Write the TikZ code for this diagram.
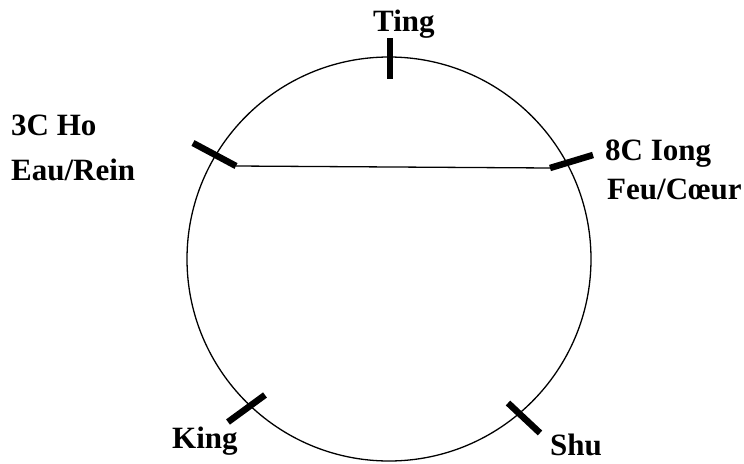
\documentclass[tikz,border=0pt]{standalone}
\usepackage{fontspec}
\setmainfont{Liberation Serif}
\begin{document}
\begin{tikzpicture}[x=1pt,y=-1pt,
  lbl/.style={anchor=base west,inner sep=0pt,font=\fontsize{31}{40}\selectfont\bfseries},
  tick/.style={line width=6.5pt},
  ringline/.style={line width=1.3pt}]
\useasboundingbox (0,0) rectangle (744,463);
\node[circle,draw,ringline,minimum size=404pt,inner sep=0pt] (ring) at (389,259) {};
% tick end points
\coordinate (tingA) at (390,38);
\coordinate (tingB) at (390,79);
\coordinate (hoA) at (193,143);
\coordinate (hoB) at (236,166);
\coordinate (iongA) at (593,155);
\coordinate (iongB) at (550,168);
\coordinate (kingA) at (228,422);
\coordinate (kingB) at (265,395);
\coordinate (shuA) at (508,403);
\coordinate (shuB) at (540,433);
\draw[tick] (tingA) -- (tingB);
\draw[tick] (hoA) -- (hoB);
\draw[tick] (iongA) -- (iongB);
\draw[tick] (kingA) -- (kingB);
\draw[tick] (shuA) -- (shuB);
\draw[ringline] (hoB) -- (iongB);
% labels
\node[lbl] (ting) at (373,31) {Ting};
\node[lbl] (ho1) at (11,135) {3C Ho};
\node[lbl] (ho2) at (11,180) {Eau/Rein};
\node[lbl] (iong1) at (605,160) {8C Iong};
\node[lbl] (iong2) at (607,199) {Feu/Cœur};
\node[lbl] (king) at (172,448) {King};
\node[lbl] (shu) at (550,455) {Shu};
\end{tikzpicture}
\end{document}
